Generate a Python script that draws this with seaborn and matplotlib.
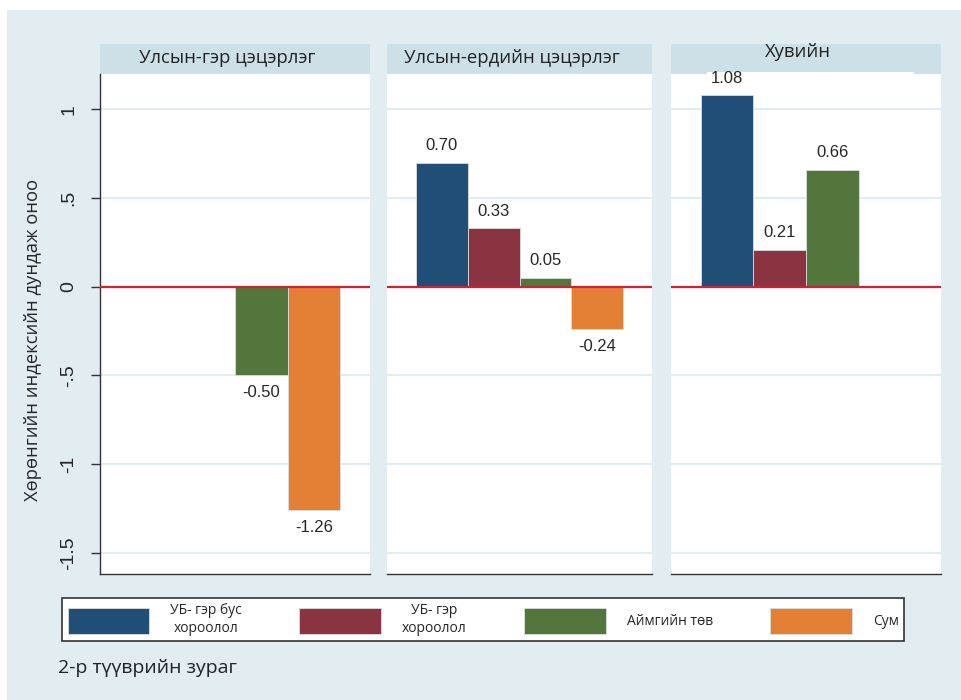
import numpy as np
import pandas as pd
import matplotlib
matplotlib.use("Agg")
import matplotlib.pyplot as plt
from matplotlib.patches import Patch, Rectangle
import seaborn as sns

# data
panels = ['Улсын-гэр цэцэрлэг', 'Улсын-ердийн цэцэрлэг', 'Хувийн']
groups = ['УБ- гэр бус\nхороолол', 'УБ- гэр\nхороолол', 'Аймгийн төв', 'Сум']
panel1_vals = [np.nan, np.nan, -0.50, -1.26]
panel2_vals = [0.70, 0.33, 0.05, -0.24]
panel3_vals = [1.08, 0.21, 0.66, np.nan]
ytick_vals = [-1.5, -1, -0.5, 0, 0.5, 1]
ytick_labels = ['-1.5', '-1', '-.5', '0', '.5', '1']
ylabel = 'Хөрөнгийн индексийн дундаж оноо'
caption = '2-р түүврийн зураг'

colors = ['#214E77', '#8B3441', '#53763D', '#E48036']
bg = '#E1EDF0'
header_col = '#CDE0E8'
grid_col = '#E1EDF0'

df = pd.DataFrame({
    'panel': np.repeat(panels, len(groups)),
    'group': groups * len(panels),
    'value': panel1_vals + panel2_vals + panel3_vals,
})

sns.set_theme(style='white')
plt.rcParams['font.family'] = ['Liberation Sans', 'DejaVu Sans']
ui_font = ['Open Sans', 'DejaVu Sans']

fig = plt.figure(figsize=(9.61, 7.0), dpi=100)
fig.patch.set_facecolor('white')
fig.add_artist(Rectangle((7 / 961, 0), 1, 690 / 700, transform=fig.transFigure,
                         facecolor=bg, edgecolor='none', zorder=0))

# panel positions in pixels (left, right)
xpos = [(100, 370), (387, 652), (671, 941)]
top, bottom = 74, 574

for i, (p, (x0, x1)) in enumerate(zip(panels, xpos)):
    w = x1 - x0
    # header strip
    hax = fig.add_axes([x0 / 961, (700 - top) / 700, w / 961, 30 / 700])
    hax.set_zorder(1)
    hax.set_facecolor(header_col)
    hax.set_xticks([])
    hax.set_yticks([])
    for s in hax.spines.values():
        s.set_visible(False)
    ty = 0.52 if i < 2 else 0.75
    hax.text(0.5 - 8 / w, ty, p, ha='center', va='center', fontsize=13.3,
             family=ui_font, color='#222222')
    if i == 2:
        # white notch under the "Хувийн" header
        hax.add_patch(Rectangle((36 / w, 0), 207 / w, 0.08, transform=hax.transAxes,
                                facecolor='white', edgecolor='none'))

    ax = fig.add_axes([x0 / 961, (700 - bottom) / 700, w / 961, (bottom - top) / 700])
    ax.set_zorder(2)
    sub = df[df['panel'] == p]
    sns.barplot(data=sub, x='panel', y='value', hue='group', hue_order=groups,
                palette=colors, saturation=1, width=0.78, ax=ax, legend=False,
                edgecolor='#dddddd', linewidth=0.6, zorder=3)
    for c in ax.containers:
        ax.bar_label(c, fmt='%.2f', padding=7, fontsize=12)
    ax.set_ylim(-1.62, 1.2)
    ax.set_xlim(-0.5, 0.5)
    ax.set_yticks(ytick_vals)
    ax.axhline(0, color='#CC2233', lw=1.6, zorder=4)
    for v in ytick_vals:
        ax.axhline(v, color=grid_col, lw=1.5, zorder=1)
    ax.set_xlabel('')
    ax.set_xticks([])
    ax.set_facecolor('white')
    for s in ['top', 'right']:
        ax.spines[s].set_visible(False)
    ax.spines['bottom'].set_color('#333333')
    ax.spines['bottom'].set_linewidth(1.0)
    if i == 0:
        ax.spines['left'].set_color('#333333')
        ax.spines['left'].set_linewidth(1.0)
        ax.set_yticklabels(ytick_labels, fontsize=14)
        ax.tick_params(axis='y', length=6.5, width=1, color='#333333', pad=10, left=True)
        plt.setp(ax.get_yticklabels(), rotation=90, va='center')
        ax.set_ylabel(ylabel, fontsize=13.2, family=ui_font, va='center')
        ax.yaxis.set_label_coords(-67 / w, 0.468)
    else:
        ax.spines['left'].set_visible(False)
        ax.set_yticklabels([])
        ax.tick_params(axis='y', length=0)
        ax.set_ylabel('')

handles = [Patch(facecolor=c, edgecolor='#dddddd', linewidth=0.6) for c in colors]
leg = fig.legend(handles, groups, loc='center', ncol=4,
                 bbox_to_anchor=(55 / 961, 58 / 700, 856 / 961, 45 / 700), mode='expand',
                 handlelength=5.9, handleheight=2.5, handletextpad=1.5,
                 fancybox=False, framealpha=1, edgecolor='#333333',
                 prop={'family': ui_font, 'size': 10},
                 borderpad=0.4, columnspacing=2.0)
leg.get_frame().set_linewidth(1.2)
for t in leg.get_texts():
    t.set_multialignment('center')

fig.text(58 / 961, 32 / 700, caption, ha='left', va='center', fontsize=14,
         family=ui_font, color='#222222')

fig.savefig('out.png', dpi=100)
